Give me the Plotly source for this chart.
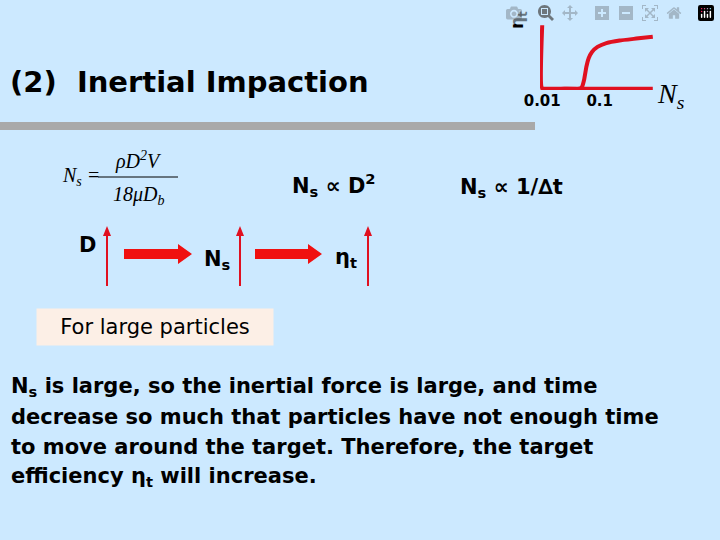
import plotly.graph_objects as go

curve_x = [0, 0, 0.2, 0.34, 0.36, 0.38, 0.40, 0.42, 0.45, 0.50, 0.58, 0.70, 0.85, 1.0]
curve_y = [1, 0, 0, 0.0, 0.03, 0.15, 0.35, 0.48, 0.58, 0.66, 0.72, 0.76, 0.79, 0.82]
tick_vals = [0.0, 0.52]
tick_text = ["0.01", "0.1"]

W, H = 720, 540
def px(x): return x / W
def py(y): return 1 - y / H

fig = go.Figure()
fig.add_trace(go.Scatter(x=curve_x, y=curve_y, mode="lines",
                         line=dict(color="#e01020", width=4, shape="spline", smoothing=0.3),
                         hoverinfo="skip", showlegend=False))
fig.update_layout(
    width=W, height=H, margin=dict(l=0, r=0, t=0, b=0, pad=0, autoexpand=False),
    paper_bgcolor="#cce9ff", plot_bgcolor="rgba(0,0,0,0)",
    xaxis=dict(domain=[px(540), px(655)], range=[-0.02, 1.02], showgrid=False, zeroline=False,
               tickvals=tick_vals, ticktext=tick_text, ticks="", showline=False, automargin=False,
               tickfont=dict(family="DejaVu Sans", size=15, color="black", weight="bold")),
    yaxis=dict(domain=[py(90), py(24)], range=[-0.02, 1.02], showgrid=False, zeroline=False,
               showticklabels=False, showline=False, automargin=False),
    font=dict(family="DejaVu Sans", color="black"),
)
fig.add_shape(type="line", xref="x", yref="y", x0=0, x1=1.0, y0=0, y1=0,
              line=dict(color="#e01020", width=4))

ann = []
def T(x, y, text, size, anchor="left", bold=True, fam="DejaVu Sans", italic=False, angle=0):
    t = text
    if bold: t = "<b>" + t + "</b>"
    if italic: t = "<i>" + t + "</i>"
    ann.append(dict(x=px(x), y=py(y), xref="paper", yref="paper", text=t, showarrow=False,
                    xanchor=anchor, yanchor="middle", textangle=angle,
                    font=dict(family=fam, size=size, color="black")))

T(519, 20, "η<sub>t</sub>", 17, anchor="center", angle=-90)
T(655, 95, "N<sub>s</sub>", 28, bold=False, fam="Liberation Serif", italic=True)
T(8, 82, "(2)  Inertial Impaction", 29)
T(290, 185, "N<sub>s</sub> ∝ D<sup>2</sup>", 21)
T(458, 188, "N<sub>s</sub> ∝ 1/∆t", 21)
T(77, 245, "D", 21)
T(202, 260, "N<sub>s</sub>", 21)
T(333, 258, "η<sub>t</sub>", 21)
T(60, 177, "N<sub>s</sub> =", 20, bold=False, fam="Liberation Serif", italic=True)
T(138, 160, "ρD<sup>2</sup>V", 20, anchor="center", bold=False, fam="Liberation Serif", italic=True)
T(138, 196, "18μD<sub>b</sub>", 20, anchor="center", bold=False, fam="Liberation Serif", italic=True)
para = ["N<sub>s</sub> is large, so the inertial force is large, and time",
        "decrease so much that particles have not enough time",
        "to move around the target. Therefore, the target",
        "efficiency η<sub>t</sub> will increase."]
for i, l in enumerate(para):
    T(9, 387 + 30 * i, l, 21)
ann.append(dict(x=px(155), y=py(327), xref="paper", yref="paper", text="For large particles",
                showarrow=False, xanchor="center", yanchor="middle", bgcolor="#fcefe6",
                width=234, height=34, font=dict(family="DejaVu Sans", size=21, color="black")))
fig.update_layout(annotations=ann)

shapes = []
def L(x0, y0, x1, y1, c, w):
    shapes.append(dict(type="line", xref="paper", yref="paper", x0=px(x0), y0=py(y0),
                       x1=px(x1), y1=py(y1), line=dict(color=c, width=w)))
L(0, 126, 535, 126, "#a9a9a9", 8)
L(98, 177, 178, 177, "black", 1)
for x in [107, 240, 368]:
    L(x, 286, x, 236, "#e01020", 2)
    shapes.append(dict(type="path", xref="paper", yref="paper",
                       path=f"M {px(x-4)} {py(236)} L {px(x+4)} {py(236)} L {px(x)} {py(226)} Z",
                       fillcolor="#e01020", line=dict(width=0)))
for x0, x1 in [(124, 178), (255, 308)]:
    shapes.append(dict(type="path", xref="paper", yref="paper",
                       path=f"M {px(x0)} {py(249)} L {px(x1)} {py(249)} L {px(x1)} {py(244)} "
                            f"L {px(x1+14)} {py(254)} L {px(x1)} {py(264)} L {px(x1)} {py(259)} "
                            f"L {px(x0)} {py(259)} Z",
                       fillcolor="#f01010", line=dict(width=0)))
fig.update_layout(shapes=fig.layout.shapes + tuple(shapes))
fig.write_html("out.html")
with open("out.html", encoding="utf-8") as f:
    html = f.read()
html = html.replace("<body>", '<body style="margin:0;background:#cce9ff">', 1)
with open("out.html", "w", encoding="utf-8") as f:
    f.write(html)
